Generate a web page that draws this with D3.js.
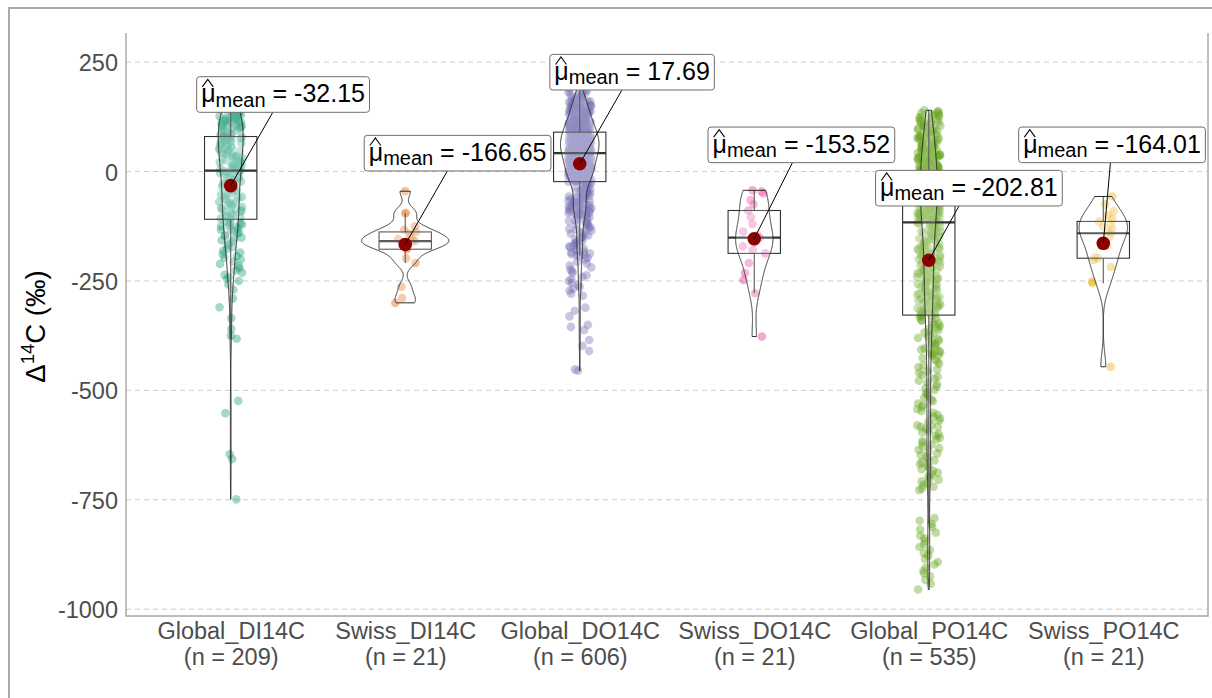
<!DOCTYPE html>
<html>
<head>
<meta charset="utf-8">
<script src="https://cdn.jsdelivr.net/npm/d3@7"></script>
<style>
  body { margin: 0; background: #fff; }
  svg { display: block; }
</style>
</head>
<body>
<svg id="chart" width="1212" height="698"></svg>
<script>
// ---- data ----
const categories = ["Global_DI14C", "Swiss_DI14C", "Global_DO14C", "Swiss_DO14C", "Global_PO14C", "Swiss_PO14C"];

const globalDI = [
  -749,-657,-646,-552,-524,
  -382,-375,-360,-335,-310,-290,-270,-258,
  -250,-245,-241,-236,-231,-226,-221,-216,-211,-206,
  -201,-197,-193,-189,-185,-181,-177,-173,-169,-165,
  -160,-157,-154,-151,-148,-145,-142,-139,-136,-133,
  -133,-130,-127,-125,-123,-121,-119,-117,-115,
  -109,
  -107,-105,-103,-101,-99,-97,-95,-93,-91,-89,
  -87,-85,-83,-81,-79,-77,-75,-73,-71,-69,
  -67,-65,-62,-60,-58,-55,-53,-50,-48,-45,
  -43,-40,-38,-35,-33,-30,-28,-25,-23,-20,
  -18,-15,-13,-11,-9,-7,-5,-3,-1,0,1,
  2,
  3,5,6,8,10,11,13,15,16,18,
  20,21,23,25,26,28,30,31,33,35,
  36,38,40,41,43,45,46,48,50,51,
  53,55,56,58,60,61,63,65,66,68,
  70,71,72,73,74,75,76,77,78,79,79,
  80,
  81,84,87,90,92,94,96,98,99,101,
  102,104,105,106,108,109,110,111,112,113,
  114,115,116,117,118,119,120,121,122,123,
  124,125,126,127,128,129,130,131,132,133,
  134,135,136,137,139,140,142,144,146,148,
  151,155
];

const swissDI = [-300,-289,-263,-209,-198,-177.5,-175,-170,-165,-162,-159,-157,-154,-148,-142,-138,-133,-125,-96,-94,-45];

const globalDO = [
  -455,-452,-410,-398,-385,-362,-355,-350,-331,-318,-311,
  -284,-279,-272,-268,-264,-259,-254,-250,-246,-241,-237,-232,-228,-224,-219,-215,-210,-206,-201,-197,-193,-189,
  -192,-190,-187,-185,-183,-180,-178,-176,-173,-171,-169,-167,-164,-162,-160,-158,-155,-153,-151,-149,
  -146,-144,-142,-140,-138,-135,-133,-131,-129,-127,-125,-123,-121,-119,-117,-115,-113,-111,-109,-107,
  -105,-103,-101,-100,-98,-97,-95,-94,
  -99,-98,-97,-96,-94,-93,-92,-91,-90,-89,
  -88,-87,-86,-85,-84,-83,-82,-81,-80,-79,
  -78,-77,-76,-75,-74,-73,-72,-71,-70,-69,
  -68,-67,-66,-65,-64,-63,-62,-61,-60,-59,
  -58,-57,-56,-55,-54,-53,-52,-51,-50,-49,
  -48,-47,-46,-45,-44,-42,-41,-40,-39,-38,
  -36,-35,-34,-33,-31,-30,-29,-28,-26,-24,
  -23,-23,
  -22,-22,-21,-21,-20,-20,-20,-19,-19,-18,-18,-17,-17,-16,-16,-15,-15,-15,-14,-14,-13,-13,-12,-12,-11,-11,
  -10,-10,-10,-9,-9,-8,-8,-7,-7,-6,-6,-5,-5,-5,-4,-4,-3,-3,-2,-2,-1,-1,0,0,0,1,1,2,2,2,3,3,4,4,5,5,5,
  6,6,7,7,8,8,8,9,9,10,10,10,11,11,12,12,12,13,13,14,14,15,15,15,16,16,17,17,18,18,18,19,19,20,20,20,
  21,21,22,22,23,23,24,24,25,25,25,26,26,27,27,28,28,28,29,29,30,30,30,31,31,32,32,33,33,34,34,35,35,35,
  36,36,37,37,38,38,38,39,39,40,40,40,41,41,41,41,
  42,42,
  43,43,43,44,44,44,44,45,45,45,46,46,46,46,47,47,47,48,48,48,48,49,49,49,50,50,50,51,51,51,
  52,52,52,52,53,53,53,54,54,54,55,55,55,56,56,56,56,57,57,57,58,58,58,59,59,59,60,60,60,60,
  61,61,61,62,62,62,63,63,63,64,64,64,64,65,65,65,66,66,66,67,67,67,68,68,68,69,69,69,
  70,70,70,70,71,71,71,72,72,72,73,73,73,74,74,74,75,75,75,76,76,76,77,77,77,78,78,78,79,79,79,
  80,80,80,81,81,81,82,82,82,83,83,83,84,84,84,85,85,85,86,86,86,87,87,87,88,88,88,89,89,89,
  90,90,
  91,91,91,92,92,92,93,93,94,94,95,95,96,96,96,97,97,98,98,98,99,99,100,100,100,101,101,102,102,102,
  103,103,104,104,105,105,105,106,106,107,107,107,108,108,108,109,109,109,110,110,
  111,111,112,112,113,113,114,114,115,115,116,116,117,117,118,118,119,119,120,120,
  121,121,122,123,123,124,125,125,126,127,128,128,129,130,131,131,132,133,134,134,
  135,136,136,137,138,138,139,139,140,140,
  141,142,143,143,144,145,146,147,147,148,149,150,151,151,152,153,154,155,156,157,
  158,159,160,161,162,163,164,166,167,169,145,150,155,160,
  170,171,172,173,174,175,176,177,178,180,182,184,186,190,205,228,256
];

const swissDO = [-377,-278,-248,-232,-209,-187,-179,-171,-162,-156,-151,-145,-137,-120,-104,-89,-75,-65,-50,-46,-43];

const globalPO = [
  -330,-333,-336,-339,-341,-344,-347,-350,-353,-356,-359,-362,-365,-368,-371,-374,-377,-380,-383,-386,
  -389,-392,-395,-398,-401,-404,-407,-410,-413,-416,-419,
  -413,-417,-421,-426,-430,-434,-439,-443,-447,-452,-456,-460,-465,-469,-473,-478,-482,-486,-491,-495,
  -499,-504,-508,-512,-517,-521,-525,-530,-534,-538,-543,-547,-551,-556,-560,-564,-569,-573,-578,-584,
  -580,-584,-588,-592,-596,-600,-604,-608,-612,-616,-620,-624,-628,-632,-636,-640,-644,-648,-652,-656,
  -660,-664,-668,-672,-676,-680,-684,-688,-692,-696,-700,-704,-708,-712,-716,-720,-724,-728,
  -792,-798,-805,-812,-818,-825,-832,-838,-845,-852,-858,-865,-872,-878,-885,-892,-898,-905,-912,-918,
  -925,-933,-942,-955,
  -328,-328,
  -326,-324,-322,-321,-320,-318,-316,-314,-313,-312,-310,-308,-306,-305,-304,-302,-300,-298,-297,-296,
  -294,-292,-290,-289,-288,-286,-284,-282,-281,-280,-278,-276,-274,-273,-272,-270,-268,-266,-265,-264,
  -262,-260,-258,-257,-256,-254,-252,-250,-249,-248,-246,-244,-242,-241,-240,-238,-236,-234,-233,-232,
  -230,-228,-226,-225,-224,-222,-220,-218,-217,-216,-214,-212,-210,-209,-208,-206,-204,-202,-201,-200,
  -198,-196,-194,-193,-192,-190,-188,-186,-185,-184,-182,-180,-178,-177,-176,-174,-172,-170,-169,-168,
  -166,-164,-162,-161,-160,-158,-156,-154,-153,-152,-150,-148,-146,-145,-144,-142,-140,-138,-137,-136,
  -134,-132,-130,-129,-128,-126,-124,-122,-121,-120,-118,-117,
  -116,
  -115,-114,-113,-112,-111,-110,-109,-108,-107,-106,-105,-104,-103,-102,-101,-100,-99,-98,-97,-96,
  -95,-94,-93,-92,-91,-90,-89,-88,-87,-86,-85,-84,-83,-82,-81,-80,-79,-78,-77,-76,
  -75,-74,-73,-72,-71,-70,-69,-68,-67,-66,-65,-64,-63,-62,-61,-60,-59,-58,-57,-56,
  -55,-54,-53,-52,-51,-50,-49,-48,-47,-46,-45,-44,-43,-42,-41,-40,-39,-38,-37,-36,
  -35,-34,-33,-32,-31,-30,-29,-28,-27,-26,-25,-24,-23,-22,-21,-20,-19,-18,-17,-16,
  -15,-14,-13,-12,-11,
  -110,-105,-100,-95,-90,-85,-80,-75,-70,-65,-60,-55,-50,-45,-40,-35,-30,-25,-20,-15,
  -108,-98,-88,-78,-68,-58,-48,
  -10,-10,
  -9,-8,-8,-7,-6,-6,-5,-4,-4,-3,-2,-2,-1,0,0,1,2,2,3,4,4,5,6,6,7,8,9,9,10,11,
  12,13,14,15,16,17,18,19,20,21,22,23,24,25,26,27,28,29,30,30,
  31,32,33,34,35,36,37,38,39,40,41,42,43,44,45,46,47,48,49,50,
  51,52,53,54,55,57,58,59,60,62,63,64,66,67,68,70,71,72,74,75,76,77,78,79,80,
  81,83,84,86,87,89,90,92,93,95,96,98,99,101,102,104,105,107,108,110,111,113,114,116,117,119,
  121,123,125,126,128,130,131,133,134,136,138,140
];

const swissPO = [-446,-255,-251,-218,-202,-198,-195,-170,-160,-150,-141,-136,-131,-126,-120,-114,-108,-100,-91,-75,-57];

const groupValues = [globalDI, swissDI, globalDO, swissDO, globalPO, swissPO];
const meanValues = [-32.15, -166.65, 17.69, -153.52, -202.81, -164.01];
const groupColors = ["#1b9e77", "#d95f02", "#7570b3", "#e7298a", "#66a61e", "#e6ab02"];
const yTicks = [250, 0, -250, -500, -750, -1000];

// label placement (x nudge in category steps, y in data units)
const labelNudgeX = [0.30, 0.30, 0.30, 0.27, 0.23, 0.05];
const labelY = [176, 42, 227, 61, -38, 61];

// ---- layout ----
const FONT = "'Liberation Sans', Arial, Helvetica, sans-serif";
const panel = { left: 126, right: 1208, top: 33, bottom: 616 };
const svg = d3.select("#chart");

const sortedGroups = groupValues.map(v => v.slice().sort(d3.ascending));
const allVals = sortedGroups.flat();
const [vmin, vmax] = d3.extent(allVals);
const pad = (vmax - vmin) * 0.05;

const x = d3.scalePoint().domain(categories).range([panel.left, panel.right]).padding(0.6);
const y = d3.scaleLinear().domain([vmin - pad, vmax + pad]).range([panel.bottom, panel.top]);
const step = x.step();

// outer frame
svg.append("rect")
  .attr("x", 9).attr("y", 8).attr("width", 1220).attr("height", 710)
  .attr("fill", "none").attr("stroke", "#ababab").attr("stroke-width", 2);

// dashed horizontal grid
svg.append("g").selectAll("line").data(yTicks).join("line")
  .attr("x1", panel.left).attr("x2", panel.right)
  .attr("y1", d => y(d)).attr("y2", d => y(d))
  .attr("stroke", "#cccccc").attr("stroke-width", 1)
  .attr("stroke-dasharray", "5,4");

// panel border (left, bottom, right)
svg.append("path")
  .attr("d", `M${panel.left},${panel.top}V${panel.bottom}H${panel.right}V${panel.top}`)
  .attr("fill", "none").attr("stroke", "#a6a6a6").attr("stroke-width", 1.4);

// y axis
const yAxis = svg.append("g")
  .attr("transform", `translate(${panel.left},0)`)
  .call(d3.axisLeft(y).tickValues(yTicks).tickFormat(d => String(d)).tickSize(0).tickPadding(8));
yAxis.attr("font-family", FONT).attr("font-size", 23.5);
yAxis.select(".domain").remove();
yAxis.selectAll(".tick text").attr("fill", "#4d4d4d").attr("dy", "0.36em");

// x axis with two-line labels
const xAxis = svg.append("g")
  .attr("transform", `translate(0,${panel.bottom})`)
  .call(d3.axisBottom(x).tickSize(0).tickPadding(0));
xAxis.attr("font-family", FONT).attr("font-size", 23.5);
xAxis.select(".domain").remove();
xAxis.selectAll(".tick text").each(function (d, i) {
  const t = d3.select(this).text(null).attr("y", null).attr("dy", null).attr("fill", "#4d4d4d");
  t.append("tspan").attr("x", 0).attr("y", 23.3).text(d);
  t.append("tspan").attr("x", 0).attr("y", 49).text(`(n = ${groupValues[i].length})`);
});

// y axis title: Δ14C (‰)
const yTitle = svg.append("text")
  .attr("transform", `translate(45,${(panel.top + panel.bottom) / 2 + 2}) rotate(-90)`)
  .attr("text-anchor", "middle")
  .attr("font-family", FONT).attr("font-size", 27.5).attr("fill", "#000");
yTitle.append("tspan").text("Δ");
yTitle.append("tspan").attr("font-size", 18.5).attr("dy", -11).text("14");
yTitle.append("tspan").attr("dy", 11).text("C (‰)");

// ---- jittered points ----
function jitter(i, g) {
  const s = Math.sin((i + 1) * 12.9898 + (g + 1) * 78.233) * 43758.5453;
  return (s - Math.floor(s)) * 2 - 1;
}
const jitterHalf = step * 0.4 / 3 / 2;
const pointLayer = svg.append("g");
groupValues.forEach((vals, g) => {
  const cx = x(categories[g]);
  pointLayer.append("g").selectAll("circle").data(vals).join("circle")
    .attr("cx", (d, i) => cx + jitter(i, g) * jitterHalf)
    .attr("cy", d => y(d))
    .attr("r", 4.3)
    .attr("fill", groupColors[g])
    .attr("fill-opacity", 0.4);
});

// ---- box plots ----
const boxHalf = step * 0.15;
const boxLayer = svg.append("g");
sortedGroups.forEach((s, g) => {
  const cx = x(categories[g]);
  const q1 = d3.quantileSorted(s, 0.25), med = d3.quantileSorted(s, 0.5), q3 = d3.quantileSorted(s, 0.75);
  const iqr = q3 - q1;
  const lo = d3.min(s.filter(v => v >= q1 - 1.5 * iqr));
  const hi = d3.max(s.filter(v => v <= q3 + 1.5 * iqr));
  const b = boxLayer.append("g").attr("stroke", "#333333").attr("fill", "none");
  b.append("line").attr("x1", cx).attr("x2", cx).attr("y1", y(q3)).attr("y2", y(hi)).attr("stroke-width", 1.1);
  b.append("line").attr("x1", cx).attr("x2", cx).attr("y1", y(q1)).attr("y2", y(lo)).attr("stroke-width", 1.1);
  b.append("rect")
    .attr("x", cx - boxHalf).attr("width", boxHalf * 2)
    .attr("y", y(q3)).attr("height", y(q1) - y(q3))
    .attr("fill", "#fff").attr("fill-opacity", 0.2).attr("stroke-width", 1.1);
  b.append("line").attr("x1", cx - boxHalf).attr("x2", cx + boxHalf)
    .attr("y1", y(med)).attr("y2", y(med)).attr("stroke-width", 2.2);
});

// ---- violins (gaussian KDE, nrd0 bandwidth, trimmed, equal area) ----
function bwNrd0(s) {
  const sd = d3.deviation(s);
  const iqr = d3.quantileSorted(s, 0.75) - d3.quantileSorted(s, 0.25);
  let lo = Math.min(sd, iqr / 1.34);
  if (!lo) lo = sd || Math.abs(s[0]) || 1;
  return 0.9 * lo * Math.pow(s.length, -0.2);
}
function kde(s, m) {
  const bw = bwNrd0(s), a = s[0], b = s[s.length - 1];
  const norm = 1 / (s.length * bw * Math.sqrt(2 * Math.PI));
  const out = [];
  for (let k = 0; k < m; k++) {
    const v = a + (b - a) * k / (m - 1);
    let sum = 0;
    for (const xi of s) { const z = (v - xi) / bw; sum += Math.exp(-0.5 * z * z); }
    out.push([v, sum * norm]);
  }
  return out;
}
const densities = sortedGroups.map(s => kde(s, 512));
const maxDens = d3.max(densities, ds => d3.max(ds, d => d[1]));
const violinHalf = step * 0.25;
const violinLayer = svg.append("g");
densities.forEach((ds, g) => {
  const cx = x(categories[g]);
  const w = d => d[1] / maxDens * violinHalf;
  const right = ds.map(d => [cx + w(d), y(d[0])]);
  const left = ds.slice().reverse().map(d => [cx - w(d), y(d[0])]);
  violinLayer.append("path")
    .attr("d", d3.line()(right.concat(left)) + "Z")
    .attr("fill", "#fff").attr("fill-opacity", 0.2)
    .attr("stroke", "#2b2b2b").attr("stroke-width", 1);
});

// ---- means and labels ----
const meanLayer = svg.append("g");
const labelLayer = svg.append("g");
meanValues.forEach((m, g) => {
  const cx = x(categories[g]), cy = y(m);
  const lx = cx + labelNudgeX[g] * step, ly = y(labelY[g]);

  const lg = labelLayer.append("g");
  const txt = lg.append("text").attr("font-family", FONT).attr("fill", "#000");
  const mu = txt.append("tspan").attr("font-size", 25).text("μ");
  txt.append("tspan").attr("font-size", 20).attr("dy", 4.4).text("mean");
  txt.append("tspan").attr("font-size", 25).attr("dy", -4.4).text(" = " + m.toFixed(2));
  const tw = txt.node().getComputedTextLength();
  const muW = mu.node().getComputedTextLength();
  const padX = 4.5, h = 35.6;
  const bw = tw + padX * 2;
  const rx0 = lx - bw / 2, ry0 = ly - h / 2;
  const base = ry0 + 25.6;
  const tx = rx0 + padX;
  txt.attr("x", tx).attr("y", base);

  // connector from the mean point to the label edge
  const dx = cx - lx, dy = cy - ly;
  const sc = Math.min(Math.abs(dx) > 0 ? (bw / 2) / Math.abs(dx) : Infinity,
                      Math.abs(dy) > 0 ? (h / 2) / Math.abs(dy) : Infinity);
  labelLayer.insert("line", ":first-child")
    .attr("x1", cx).attr("y1", cy)
    .attr("x2", lx + dx * sc).attr("y2", ly + dy * sc)
    .attr("stroke", "#000").attr("stroke-width", 1);

  lg.insert("rect", "text")
    .attr("x", rx0).attr("y", ry0).attr("width", bw).attr("height", h)
    .attr("rx", 3).attr("fill", "#fff").attr("stroke", "#6e6e6e").attr("stroke-width", 1);

  // hat over μ
  lg.append("path")
    .attr("d", `M${tx + muW * 0.08},${base - 15.5}L${tx + muW * 0.46},${base - 23}L${tx + muW * 0.84},${base - 15.5}`)
    .attr("fill", "none").attr("stroke", "#000").attr("stroke-width", 1.1);

  meanLayer.append("circle")
    .attr("cx", cx).attr("cy", cy).attr("r", 6.8)
    .attr("fill", "#8b0000");
});
// labels above mean points
labelLayer.raise();
</script>
</body>
</html>
